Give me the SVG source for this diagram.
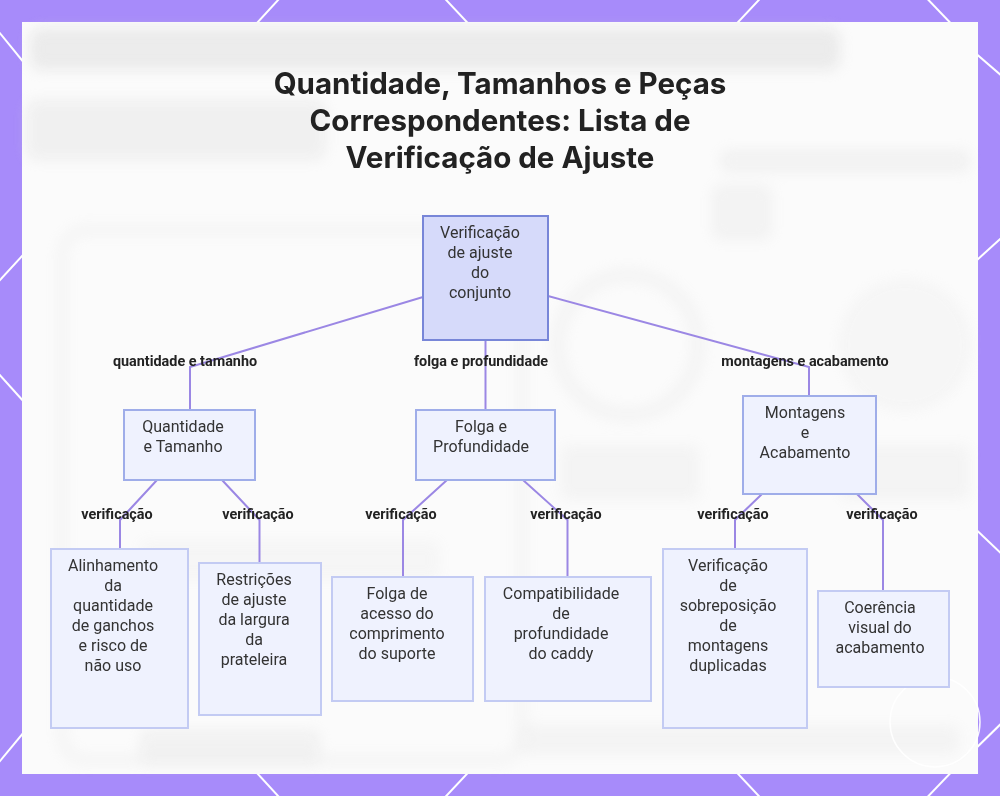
<svg xmlns="http://www.w3.org/2000/svg" width="1000" height="796" viewBox="0 0 1000 796">
  <defs>
    <filter id="blur" x="-20%" y="-20%" width="140%" height="140%">
      <feGaussianBlur stdDeviation="7"/>
    </filter>
    <style>
      .hex { stroke: #ffffff; stroke-width: 2; fill: none; }
      .edge { stroke: #9b87e4; stroke-width: 2; fill: none; }
      .root { fill: #d6dafa; stroke: #7886d8; stroke-width: 2; }
      .mid { fill: #eff2fe; stroke: #9fade9; stroke-width: 2; }
      .leaf { fill: #eff2fe; stroke: #c3cbf3; stroke-width: 2; }
      .ntext { font-family: Roboto, "Liberation Sans", sans-serif; font-size: 16px; fill: #333333; text-anchor: middle; dominant-baseline: central; }
      .elabel { font-family: Roboto, "Liberation Sans", sans-serif; font-size: 14.4px; font-weight: bold; fill: #222222; text-anchor: middle; dominant-baseline: central; }
      .title { font-family: Inter, Roboto, "Liberation Sans", sans-serif; font-size: 29.5px; font-weight: bold; fill: #222222; text-anchor: middle; }
      .ghost { fill: #d8d8d8; }
    </style>
  </defs>

  <!-- border background -->
  <rect x="0" y="0" width="1000" height="796" fill="#a78bfa"/>
  <g id="pattern">
    <line class="hex" x1="290" y1="-13" x2="246" y2="35"/>
    <line class="hex" x1="434" y1="-13" x2="479" y2="35"/>
    <line class="hex" x1="771" y1="-13" x2="726" y2="35"/>
    <line class="hex" x1="916" y1="-13" x2="962" y2="35"/>
    <line class="hex" x1="246" y1="761" x2="290" y2="809"/>
    <line class="hex" x1="479" y1="761" x2="434" y2="809"/>
    <line class="hex" x1="726" y1="761" x2="771" y2="809"/>
    <line class="hex" x1="962" y1="761" x2="916" y2="809"/>
    <line class="hex" x1="-10" y1="21" x2="34" y2="75"/>
    <line class="hex" x1="34" y1="243" x2="-10" y2="291"/>
    <line class="hex" x1="-10" y1="364" x2="34" y2="413"/>
    <line class="hex" x1="34" y1="720" x2="-10" y2="773"/>
    <line class="hex" x1="966" y1="45" x2="1010" y2="83"/>
    <line class="hex" x1="966" y1="270" x2="1010" y2="230"/>
    <line class="hex" x1="966" y1="520" x2="1010" y2="562"/>
    <line class="hex" x1="966" y1="758" x2="1010" y2="715"/>
  </g>

  <!-- panel with faint blurred backdrop -->
  <rect x="22" y="22" width="956" height="752" fill="#fbfbfb"/>
  <g id="backdrop" filter="url(#blur)" opacity="0.45">
    <rect class="ghost" x="30" y="28" width="810" height="42" rx="10"/>
    <rect class="ghost" x="26" y="100" width="300" height="60" rx="10" opacity="0.7"/>
    <rect class="ghost" x="720" y="150" width="250" height="22" rx="8" opacity="0.6"/>
    <rect class="ghost" x="712" y="185" width="60" height="55" rx="8" opacity="0.5"/>
    <rect x="62" y="230" width="460" height="530" rx="24" fill="none" stroke="#dddddd" stroke-width="10" opacity="0.5"/>
    <circle cx="628" cy="345" r="70" fill="none" stroke="#dedede" stroke-width="14" opacity="0.5"/>
    <circle cx="905" cy="345" r="66" fill="#e6e6e6" opacity="0.5"/>
    <rect class="ghost" x="560" y="445" width="140" height="55" rx="8" opacity="0.4"/>
    <rect class="ghost" x="840" y="445" width="130" height="55" rx="8" opacity="0.4"/>
    <rect class="ghost" x="140" y="730" width="180" height="35" rx="8" opacity="0.6"/>
    <rect class="ghost" x="520" y="725" width="440" height="30" rx="8" opacity="0.4"/>
    <rect class="ghost" x="140" y="540" width="300" height="40" rx="8" opacity="0.3"/>
  </g>
  <circle cx="935" cy="722" r="45" fill="none" stroke="#ffffff" stroke-width="1.5" opacity="0.9"/>

  <!-- title -->
  <g id="title">
    <text class="title" x="500" y="94">Quantidade, Tamanhos e Peças</text>
    <text class="title" x="500" y="131">Correspondentes: Lista de</text>
    <text class="title" x="500" y="168">Verificação de Ajuste</text>
  </g>

  <!-- connectors -->
  <g id="connectors">
    <polyline class="edge" points="423,297 190,367 190,410"/>
    <polyline class="edge" points="485.5,340 485.5,410"/>
    <polyline class="edge" points="548,296 809,367 809,396"/>
    <polyline class="edge" points="157,480 120,520 120,549"/>
    <polyline class="edge" points="222,480 259.5,520 259.5,563"/>
    <polyline class="edge" points="447,480 403,520 403,577"/>
    <polyline class="edge" points="523,480 567.5,520 567.5,577"/>
    <polyline class="edge" points="762,494 735,520 735,549"/>
    <polyline class="edge" points="857,494 883,520 883,591"/>
  </g>

  <!-- edge labels -->
  <g id="edge-labels">
    <text class="elabel" x="185" y="361">quantidade e tamanho</text>
    <text class="elabel" x="481" y="361">folga e profundidade</text>
    <text class="elabel" x="805" y="361">montagens e acabamento</text>
    <text class="elabel" x="117" y="514">verificação</text>
    <text class="elabel" x="258" y="514">verificação</text>
    <text class="elabel" x="401" y="514">verificação</text>
    <text class="elabel" x="566" y="514">verificação</text>
    <text class="elabel" x="733" y="514">verificação</text>
    <text class="elabel" x="882" y="514">verificação</text>
  </g>

  <!-- nodes -->
  <g id="node-root">
    <rect class="root" x="423" y="216" width="125" height="124"/>
    <text class="ntext" x="480" y="232">Verificação</text>
    <text class="ntext" x="480" y="252">de ajuste</text>
    <text class="ntext" x="480" y="272">do</text>
    <text class="ntext" x="480" y="292">conjunto</text>
  </g>
  <g id="node-quantidade">
    <rect class="mid" x="124" y="410" width="131" height="70"/>
    <text class="ntext" x="183" y="426">Quantidade</text>
    <text class="ntext" x="183" y="446">e Tamanho</text>
  </g>
  <g id="node-folga">
    <rect class="mid" x="416" y="410" width="139" height="70"/>
    <text class="ntext" x="481" y="426">Folga e</text>
    <text class="ntext" x="481" y="446">Profundidade</text>
  </g>
  <g id="node-montagens">
    <rect class="mid" x="743" y="396" width="133" height="98"/>
    <text class="ntext" x="805" y="412">Montagens</text>
    <text class="ntext" x="805" y="432">e</text>
    <text class="ntext" x="805" y="452">Acabamento</text>
  </g>
  <g id="node-alinhamento">
    <rect class="leaf" x="51" y="549" width="137" height="179"/>
    <text class="ntext" x="113" y="565">Alinhamento</text>
    <text class="ntext" x="113" y="585">da</text>
    <text class="ntext" x="113" y="605">quantidade</text>
    <text class="ntext" x="113" y="625">de ganchos</text>
    <text class="ntext" x="113" y="645">e risco de</text>
    <text class="ntext" x="113" y="665">não uso</text>
  </g>
  <g id="node-restricoes">
    <rect class="leaf" x="199" y="563" width="122" height="152"/>
    <text class="ntext" x="254" y="579">Restrições</text>
    <text class="ntext" x="254" y="599">de ajuste</text>
    <text class="ntext" x="254" y="619">da largura</text>
    <text class="ntext" x="254" y="639">da</text>
    <text class="ntext" x="254" y="659">prateleira</text>
  </g>
  <g id="node-folga-acesso">
    <rect class="leaf" x="332" y="577" width="141" height="124"/>
    <text class="ntext" x="397" y="593">Folga de</text>
    <text class="ntext" x="397" y="613">acesso do</text>
    <text class="ntext" x="397" y="633">comprimento</text>
    <text class="ntext" x="397" y="653">do suporte</text>
  </g>
  <g id="node-compatibilidade">
    <rect class="leaf" x="485" y="577" width="166" height="124"/>
    <text class="ntext" x="561" y="593">Compatibilidade</text>
    <text class="ntext" x="561" y="613">de</text>
    <text class="ntext" x="561" y="633">profundidade</text>
    <text class="ntext" x="561" y="653">do caddy</text>
  </g>
  <g id="node-sobreposicao">
    <rect class="leaf" x="663" y="549" width="144" height="179"/>
    <text class="ntext" x="728" y="565">Verificação</text>
    <text class="ntext" x="728" y="585">de</text>
    <text class="ntext" x="728" y="605">sobreposição</text>
    <text class="ntext" x="728" y="625">de</text>
    <text class="ntext" x="728" y="645">montagens</text>
    <text class="ntext" x="728" y="665">duplicadas</text>
  </g>
  <g id="node-coerencia">
    <rect class="leaf" x="818" y="591" width="131" height="96"/>
    <text class="ntext" x="880" y="607">Coerência</text>
    <text class="ntext" x="880" y="627">visual do</text>
    <text class="ntext" x="880" y="647">acabamento</text>
  </g>
</svg>
